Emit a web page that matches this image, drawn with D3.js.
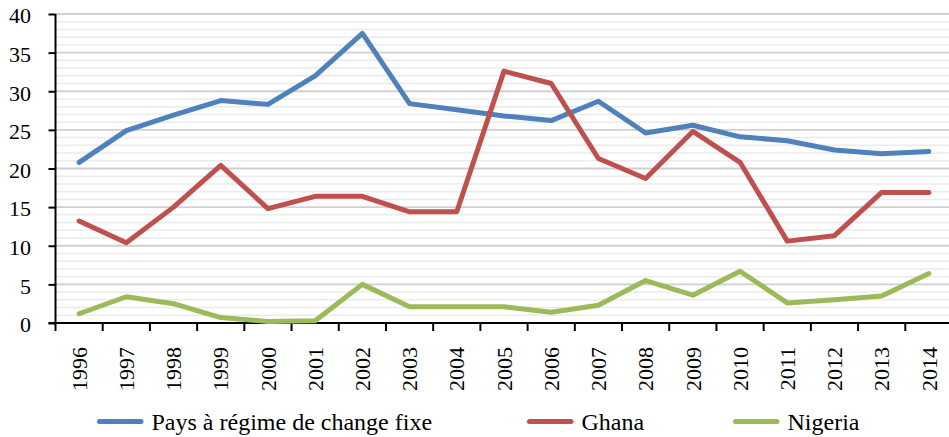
<!DOCTYPE html>
<html>
<head>
<meta charset="utf-8">
<title>Pays à régime de change fixe, Ghana, Nigeria</title>
<script src="https://cdn.jsdelivr.net/npm/d3@7"></script>
<style>
  html, body {
    margin: 0;
    padding: 0;
    background: #fff;
  }
</style>
</head>
<body>
<svg id="chart" width="949" height="437"></svg>
<script>
// Categories along the x axis.
const YEARS = [
  '1996', '1997', '1998', '1999', '2000', '2001', '2002', '2003', '2004',
  '2005', '2006', '2007', '2008', '2009', '2010', '2011', '2012', '2013',
  '2014',
];

// Series values.
const FIXE = [
  20.8, 24.9, 26.9, 28.8, 28.3, 32.0, 37.5, 28.4, 27.6, 26.8, 26.2, 28.7,
  24.6, 25.6, 24.1, 23.6, 22.4, 21.9, 22.2,
];
const GHANA = [
  13.2, 10.4, 15.0, 20.4, 14.8, 16.4, 16.4, 14.4, 14.4, 32.6, 31.0, 21.3,
  18.7, 24.8, 20.8, 10.6, 11.3, 16.9, 16.9,
];
const NIGERIA = [
  1.2, 3.4, 2.5, 0.7, 0.2, 0.3, 5.0, 2.1, 2.1, 2.1, 1.4, 2.3,
  5.5, 3.6, 6.7, 2.6, 3.0, 3.5, 6.4,
];

const SERIES_NAMES = ['Pays à régime de change fixe', 'Ghana', 'Nigeria'];
const Y_TICKS = [0, 5, 10, 15, 20, 25, 30, 35, 40];

const COLORS = ['#4f81bd', '#c0504d', '#9bbb59'];
const FONT = "'Liberation Serif'";

/**
 * Plot box. The last category runs slightly past the window's right edge,
 * as it does in the reference.
 */
const PLOT = {left: 55.5, right: 952.5, top: 14, bottom: 323};

const svg = d3.select('#chart');

const x = d3.scaleBand()
  .domain(YEARS)
  .range([PLOT.left, PLOT.right]);

const y = d3.scaleLinear()
  .domain([0, 40])
  .range([PLOT.bottom, PLOT.top]);

// Minor gridlines every unit, major ones on each labelled tick.
const gridGroup = svg.append('g');
gridGroup.selectAll('line.minor')
  .data(d3.range(1, 40).filter((v) => v % 5 !== 0))
  .enter()
  .append('line')
  .attr('class', 'minor')
  .attr('x1', PLOT.left)
  .attr('x2', 949)
  .attr('y1', (v) => y(v))
  .attr('y2', (v) => y(v))
  .style('stroke', '#ebebeb')
  .style('stroke-width', 1.5);

gridGroup.selectAll('line.major')
  .data(Y_TICKS.filter((v) => v > 0))
  .enter()
  .append('line')
  .attr('class', 'major')
  .attr('x1', PLOT.left)
  .attr('x2', 949)
  .attr('y1', (v) => y(v))
  .attr('y2', (v) => y(v))
  .style('stroke', '#d0d0d0')
  .style('stroke-width', 1.8);

// Y axis: ticks point outward to the left.
const yAxis = svg.append('g')
  .attr('transform', `translate(${PLOT.left},0)`)
  .call(d3.axisLeft(y).tickValues(Y_TICKS).tickSize(7))
  .attr('font-family', null)
  .attr('font-size', null);

yAxis.select('.domain')
  .style('stroke', '#000')
  .style('stroke-width', 2)
  .attr('d', `M0,${PLOT.bottom}V${PLOT.top}`);
yAxis.selectAll('.tick line')
  .style('stroke', '#000')
  .style('stroke-width', 2);
yAxis.selectAll('.tick text')
  .style('font-family', FONT)
  .style('font-size', '22px')
  .style('fill', '#000')
  .attr('dy', '0.4em')
  .attr('x', -24.5);

// X axis: ticks sit on the boundaries between categories.
const xAxis = svg.append('g')
  .attr('transform', `translate(0,${PLOT.bottom})`);

xAxis.append('line')
  .attr('x1', PLOT.left - 7)
  .attr('x2', 949)
  .style('stroke', '#000')
  .style('stroke-width', 2);

xAxis.selectAll('line.tick')
  .data(YEARS)
  .enter()
  .append('line')
  .attr('class', 'tick')
  .attr('x1', (d) => x(d))
  .attr('x2', (d) => x(d))
  .attr('y1', 0)
  .attr('y2', 8)
  .style('stroke', '#000')
  .style('stroke-width', 2);

// Year labels, rotated to read bottom to top.
xAxis.selectAll('text')
  .data(YEARS)
  .enter()
  .append('text')
  .attr('transform', (d) =>
    `translate(${x(d) + x.bandwidth() / 2},24) rotate(-90)`)
  .attr('text-anchor', 'end')
  .attr('dy', '0.35em')
  .style('font-family', FONT)
  .style('font-size', '22px')
  .style('fill', '#000')
  .text((d) => d);

// Series lines.
const line = d3.line()
  .x((d, i) => x(YEARS[i]) + x.bandwidth() / 2)
  .y((d) => y(d));

svg.append('g')
  .selectAll('path')
  .data([FIXE, GHANA, NIGERIA])
  .enter()
  .append('path')
  .attr('d', line)
  .style('fill', 'none')
  .style('stroke', (d, i) => COLORS[i])
  .style('stroke-width', 5)
  .style('stroke-linecap', 'round')
  .style('stroke-linejoin', 'round');

// Legend along the bottom.
const LEGEND_X = [97, 527, 733];
const legend = svg.append('g')
  .selectAll('g')
  .data(SERIES_NAMES)
  .enter()
  .append('g')
  .attr('transform', (d, i) => `translate(${LEGEND_X[i]},421.5)`);

legend.append('line')
  .attr('x1', 2.5)
  .attr('x2', 44)
  .style('stroke', (d, i) => COLORS[i])
  .style('stroke-width', 5)
  .style('stroke-linecap', 'round');

legend.append('text')
  .attr('x', 54.5)
  .attr('y', 8.5)
  .style('font-family', FONT)
  .style('font-size', '24px')
  .style('fill', '#000')
  .text((d) => d);
</script>
</body>
</html>
